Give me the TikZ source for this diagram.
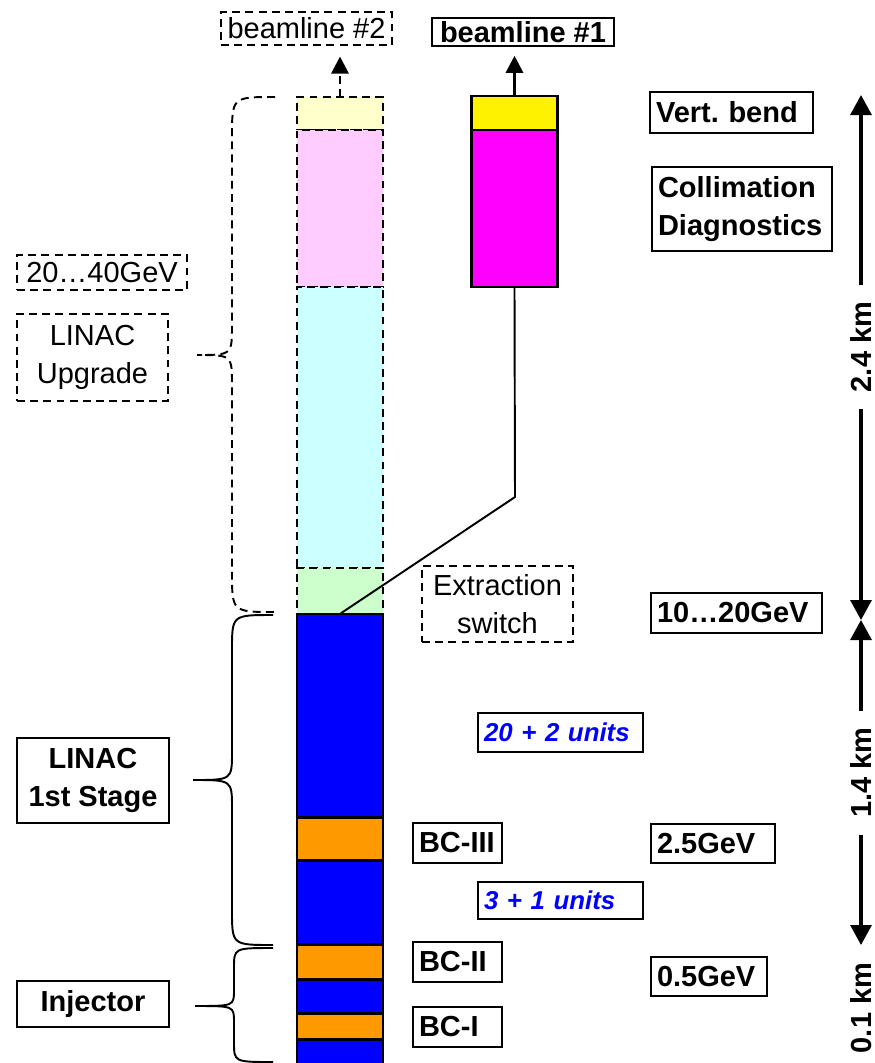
\documentclass[tikz,border=0pt]{standalone}
\usepackage{fontspec}
\setmainfont{Liberation Sans}
\usepackage{xcolor}
\usepackage{tikz}
\usetikzlibrary{arrows.meta, positioning}

\definecolor{cream}{HTML}{FFFFCC}
\definecolor{palepink}{HTML}{FFCCFF}
\definecolor{palecyan}{HTML}{CCFFFF}
\definecolor{palegreen}{HTML}{CCFFCC}
\definecolor{bcorange}{HTML}{FF9900}
\definecolor{fullmagenta}{HTML}{FF00FF}

\begin{document}
\begin{tikzpicture}[
x=0.02cm,
y=-0.02cm,
node distance=0pt,
font=\fontsize{16.5}{21.5}\selectfont,
seg/.style={
rectangle,
draw,
line width=1.6pt,
minimum width=1.72cm,
inner sep=0pt,
outer sep=0pt
},
upg/.style={
dash pattern=on 4.5pt off 3pt
},
tag/.style={
rectangle,
draw,
line width=1.1pt,
inner xsep=0.12cm,
inner ysep=0pt,
align=center
},
boldtag/.style={
font=\fontsize{16.5}{21.5}\selectfont\bfseries
},
units/.style={
text=blue,
font=\fontsize{14.7}{18}\selectfont\bfseries\itshape
},
arrow/.style={
-{Triangle[length=0.34cm, width=0.34cm]},
line width=1.6pt
},
dim/.style={
{Triangle[length=0.4cm, width=0.42cm]}-{Triangle[length=0.4cm, width=0.42cm]},
line width=1.8pt
},
km/.style={
fill=white,
rotate=90,
inner xsep=0.34cm,
inner ysep=0pt,
font=\fontsize{16.5}{21.5}\selectfont\bfseries
},
brace/.style={
line width=1.1pt
}
]

\useasboundingbox (0,0) rectangle (875,1063);

\node[seg, upg, fill=cream, minimum height=0.66cm] (s1) at (340,113.5) {};
\node[seg, upg, fill=palepink, minimum height=3.14cm, below=of s1] (s2) {};
\node[seg, upg, fill=palecyan, minimum height=5.62cm, below=of s2] (s3) {};
\node[seg, upg, fill=palegreen, minimum height=0.92cm, below=of s3] (s4) {};
\node[seg, fill=blue, minimum height=4.08cm, below=of s4] (s5) {};
\node[seg, fill=bcorange, minimum height=0.86cm, below=of s5] (s6) {};
\node[seg, fill=blue, minimum height=1.68cm, below=of s6] (s7) {};
\node[seg, fill=bcorange, minimum height=0.7cm, below=of s7] (s8) {};
\node[seg, fill=blue, minimum height=0.68cm, below=of s8] (s9) {};
\node[seg, fill=bcorange, minimum height=0.52cm, below=of s9] (s10) {};
\node[seg, fill=blue, minimum height=0.8cm, below=of s10] (s11) {};

\node[seg, fill=yellow, minimum height=0.68cm] (vb) at (514.5,113) {};
\node[seg, fill=fullmagenta, minimum height=3.14cm, below=of vb] (cd) {};

\node[tag, upg, minimum width=3.42cm, minimum height=0.66cm] (bl2) at (306.5,28.5) {beamline \#2};
\node[tag, boldtag, minimum width=3.64cm, minimum height=0.56cm] (bl1) at (523,32) {beamline \#1};

\node[tag, boldtag, text width=3.02cm, align=left, minimum height=0.82cm] (vert) at (731.5,112.5) {Vert.\ bend};
\node[tag, boldtag, text width=3.36cm, align=left, minimum height=1.68cm] (coll) at (742,209) {Collimation\\Diagnostics};

\node[tag, upg, minimum width=3.4cm, minimum height=0.7cm] (e40) at (102,272.5) {20…40GeV};
\node[tag, upg, minimum width=3.02cm, minimum height=1.74cm] (upgrade) at (92.5,357.5) {LINAC\\Upgrade};
\node[tag, upg, minimum width=3.02cm, minimum height=1.52cm] (switch) at (497.5,604) {Extraction\\switch};

\node[tag, boldtag, text width=3.18cm, align=left, minimum height=0.8cm] (e20) at (736.5,613) {10…20GeV};
\node[tag, units, text width=3.06cm, align=left, minimum height=0.78cm] (u22) at (560.5,732.5) {20 + 2 units};
\node[tag, boldtag, minimum width=3.04cm, minimum height=1.7cm] (stage1) at (93,780.5) {LINAC\\1st Stage};

\node[tag, boldtag, text width=1.54cm, align=left, minimum height=0.8cm] (bc3) at (457.5,843) {BC-III};
\node[tag, boldtag, text width=2.24cm, align=left, minimum height=0.78cm] (e25) at (713,843.5) {2.5GeV};
\node[tag, units, text width=3.06cm, align=left, minimum height=0.74cm] (u31) at (560.5,900.5) {3 + 1 units};
\node[tag, boldtag, text width=1.54cm, align=left, minimum height=0.8cm] (bc2) at (457.5,962) {BC-II};
\node[tag, boldtag, text width=2.08cm, align=left, minimum height=0.78cm] (e05) at (709,976.5) {0.5GeV};
\node[tag, boldtag, minimum width=3.04cm, minimum height=0.92cm] (inj) at (93,1004) {Injector};
\node[tag, boldtag, text width=1.54cm, align=left, minimum height=0.8cm] (bc1) at (457.5,1027) {BC-I};

\draw[arrow, shorten >=5pt] (vb.north) -- (vb.north |- bl1.south);
\draw[arrow, upg, shorten >=6pt] (s1.north) -- (s1.north |- bl2.south);

\coordinate (kink) at (515,497);
\draw[line width=1.1pt] (cd.south) -- (kink) -- (s5.north);

\draw[brace, upg] (275,97) .. controls (232,97) .. (232,137) -- (232,325) .. controls (232,355) .. (197,355) .. controls (232,355) .. (232,385) -- (232,572) .. controls (232,612) .. (275,612);
\draw[brace] (273,615) .. controls (232,615) .. (232,650) -- (232,752) .. controls (232,780) .. (193,780) .. controls (232,780) .. (232,808) -- (232,910) .. controls (232,945) .. (273,945);
\draw[brace] (273,948) .. controls (234,948) .. (234,968) -- (234,990) .. controls (234,1006) .. (195,1006) .. controls (234,1006) .. (234,1022) -- (234,1042) .. controls (234,1062) .. (273,1062);

\coordinate (d1) at (861,95);
\coordinate (d2) at (861,620);
\coordinate (d3) at (861,945);
\draw[dim] (d2) -- node[km, pos=0.52] (len1) {2.4 km} (d1);
\draw[dim] (d3) -- node[km, pos=0.53] (len2) {1.4 km} (d2);
\node[km, fill=none] (len3) at (861,1008) {0.1 km};

\end{tikzpicture}
\end{document}
